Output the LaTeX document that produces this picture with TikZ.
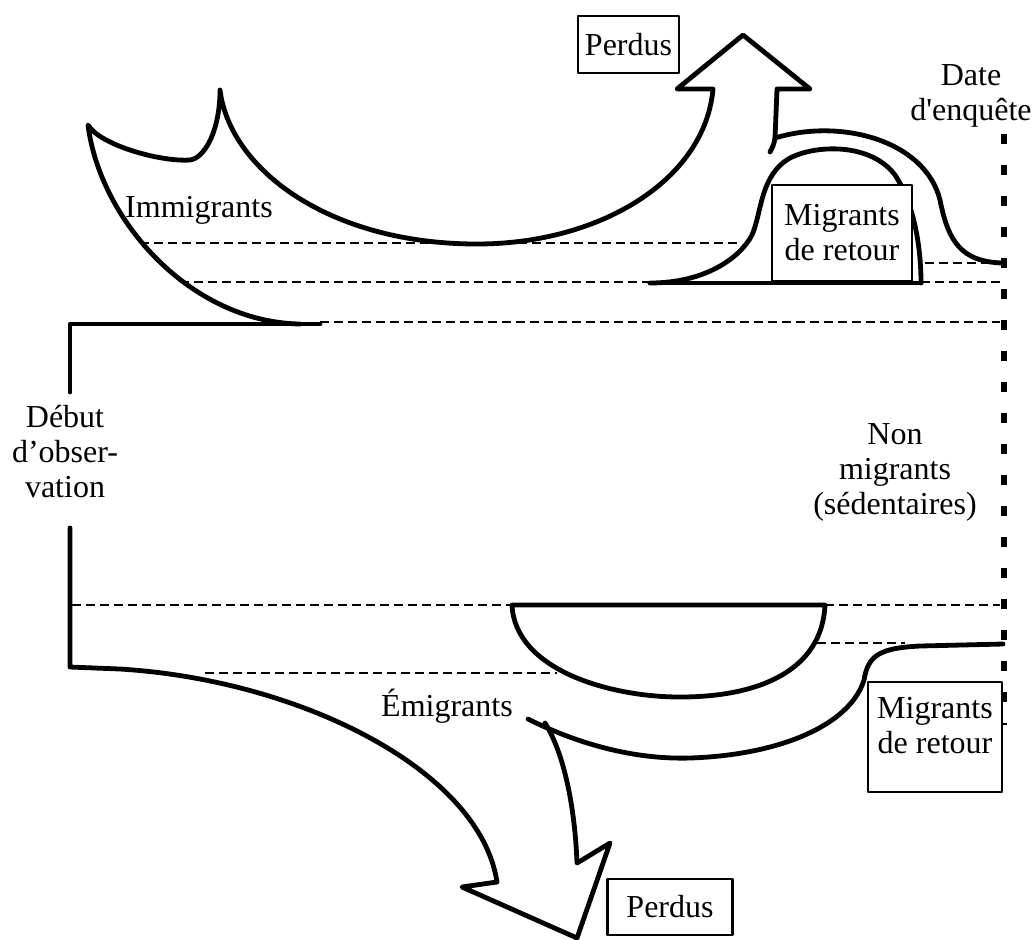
\documentclass[tikz,border=0pt]{standalone}
\usepackage{fontspec}
\setmainfont{Liberation Serif}

\begin{document}
\begin{tikzpicture}[x=0.5pt, y=-0.5pt, line join=round, line cap=round,
  flow/.style = {line width=2.4pt},
  guide/.style = {line width=1pt, dash pattern=on 4.5pt off 2.5pt, line cap=butt},
  enquete/.style = {line width=2.8pt, dash pattern=on 5pt off 10.5pt, line cap=butt},
  box/.style = {draw, line width=1.1pt, fill=white, rectangle, inner sep=0pt, font=\fontsize{16}{17.5}\selectfont, align=center},
  txt/.style = {inner sep=0pt, font=\fontsize{16}{17.5}\selectfont, align=center}]
\useasboundingbox (0,0) rectangle (1036,939);

% dashed levels
\draw[guide] (140,243) -- (737,243);
\draw[guide] (180,282) -- (650,282);
\draw[guide] (921,282) -- (1000,282);
\draw[guide] (925,263) -- (1000,263);
\draw[guide] (320,322) -- (1000,322);
\draw[guide] (72,605) -- (512,605);
\draw[guide] (825,605) -- (1000,605);
\draw[guide] (817,643) -- (905,643);
\draw[guide] (205,673) -- (557,673);

% date d'enquete
\coordinate (e1) at (1004,134);
\coordinate (e2) at (1004,725);
\draw[enquete] (e1) -- (e2);

% immigrants and lost
\draw[flow] (70,392) -- (70,324) -- (320,324);
\draw[flow] (300,324) .. controls (190,322) and (100,220) .. (88,125)
  .. controls (100,145) and (160,162) .. (190,160)
  .. controls (205,158) and (220,130) .. (220,90)
  .. controls (230,170) and (330,244) .. (477,244)
  .. controls (600,244) and (705,180) .. (713,89)
  -- (677,89) -- (743,35) -- (810,89) -- (777,89) -- (775,138)
  .. controls (774,145) and (772,148) .. (770,152);

% return migrants (top)
\draw[flow] (775,138) .. controls (840,118) and (925,140) .. (940,200)
  .. controls (948,240) and (960,262) .. (1003,263);
\draw[flow] (650,283) -- (921,283);
\draw[flow] (650,283) .. controls (705,283) and (740,258) .. (752,235)
  .. controls (762,212) and (760,175) .. (790,158)
  .. controls (815,145) and (870,142) .. (895,175)
  .. controls (915,205) and (921,250) .. (921,283);
\node[box, minimum width=70pt, minimum height=48pt] (retA) at (842,233) {Migrants\\de retour};
\node[box, minimum width=50.5pt, minimum height=28.5pt] (perdA) at (628.5,44.5) {Perdus};

% emigrants and lost
\draw[flow] (70,528) -- (70,667) -- (120,669)
  .. controls (300,680) and (480,770) .. (497,882)
  -- (462,887) -- (577,938) -- (610,843) -- (577,863)
  .. controls (575,810) and (565,755) .. (545,723);
\draw[flow] (512,605) -- (825,605) .. controls (822,670) and (760,697) .. (680,697)
  .. controls (610,697) and (515,670) .. (512,605) -- cycle;
\draw[flow] (528,719) .. controls (560,735) and (620,760) .. (690,758)
  .. controls (780,755) and (850,725) .. (864,680)
  .. controls (868,655) and (880,648) .. (920,646) -- (1003,644);
\node[box, minimum width=67pt, minimum height=55pt] (retB) at (935,737) {};
\node[txt] (retBt) at (935,726) {Migrants\\de retour};
\node[box, minimum width=62.5pt, minimum height=28pt] (perdB) at (670,907) {Perdus};

% labels
\node[txt] (imm) at (199,210) {Immigrants};
\node[txt] (emi) at (447,706) {Émigrants};
\node[txt] (debut) at (65,452) {Début\\d’obser-\\vation};
\node[txt] (nonmig) at (895,472) {Non\\migrants\\(sédentaires)};
\node[txt] (date) at (971,96) {Date\\d\textquotesingle enquête};
\end{tikzpicture}
\end{document}
